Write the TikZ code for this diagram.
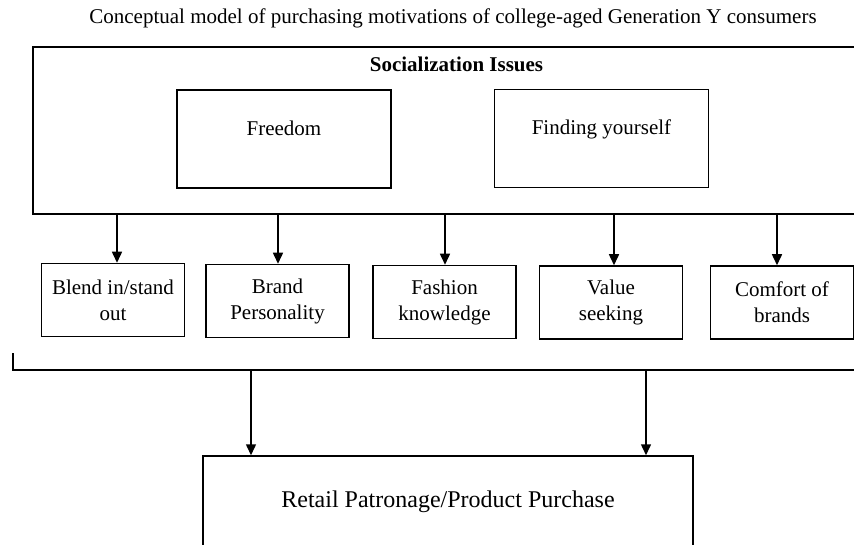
\documentclass[tikz,border=0pt]{standalone}
\usepackage{fontspec}
\setmainfont{Liberation Serif}
\usetikzlibrary{arrows.meta, positioning, calc}

\begin{document}
\begin{tikzpicture}[x=1pt, y=-1pt, line width=1.5pt,
    txt/.style={font=\fontsize{21}{26}\selectfont},
    motive/.style={draw, txt, minimum width=143pt, minimum height=73pt, align=center, inner sep=2pt},
    issue/.style={draw, minimum width=214pt, minimum height=98pt},
    arr/.style={-{Triangle[length=11pt, width=10pt]}}]

      \useasboundingbox (0,0) rectangle (854,545);
      \clip (0,0) rectangle (854,545);

      \node[txt] (title) at (453,18) {Conceptual model of purchasing motivations of college-aged Generation Y consumers};

      % socialization frame, open on the right
      \node[draw, minimum width=847pt, minimum height=167pt,
            label={[anchor=base, yshift=-25pt, font=\bfseries\fontsize{21}{26}\selectfont]north:Socialization Issues}] (social) at (456.5,130.5) {};
      \node[issue, label={[txt, anchor=base, yshift=-46pt]north:Freedom}] (freedom) at (284,139) {};
      \node[issue, label={[txt, anchor=base, yshift=-46pt]north:Finding yourself}] (finding) at (601.5,138.5) {};

      \node[motive] (blend) at (113,300) {Blend in/stand\\out};
      \node[motive] (brand) at (277.5,301) {Brand\\Personality};
      \node[motive] (fashion) at (444.5,302) {Fashion\\knowledge};
      \node[motive] (value) at (611,302.5) {Value\\seeking};
      \node[motive] (comfort) at (782,302.5) {Comfort of\\brands};

      \foreach \m/\dx in {blend/4, brand/0.5, fashion/0.5, value/3, comfort/-5}
        \draw[arr] ([xshift=\dx pt]\m.north |- social.south) -- ([xshift=\dx pt]\m.north);

      % bracket collecting the motives
      \coordinate (tick) at (13,353);
      \coordinate (brk) at (13,370);
      \coordinate (brkend) at (880,370);
      \draw (tick) -- (brk) -- (brkend);

      \node[draw, minimum width=490pt, minimum height=92pt, font=\fontsize{24}{28}\selectfont] (retail) at (448,502) {Retail Patronage/Product Purchase};

      \coordinate (j1) at (251,370);
      \coordinate (j2) at (646,370);
      \draw[arr] (j1) -- (j1 |- retail.north);
      \draw[arr] (j2) -- (j2 |- retail.north);

    \end{tikzpicture}
\end{document}
